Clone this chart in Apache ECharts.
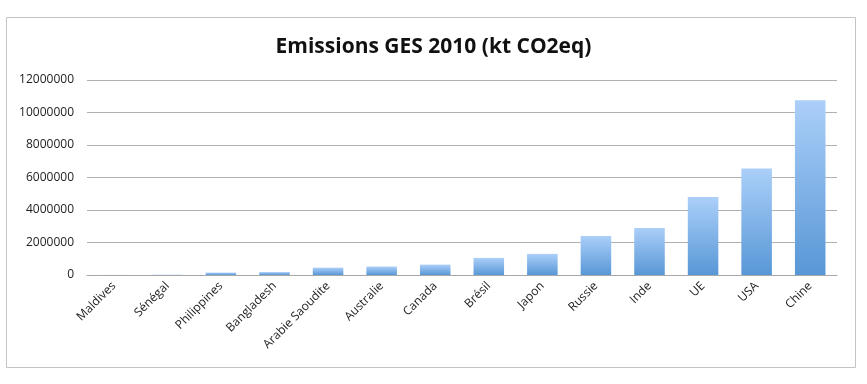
<!DOCTYPE html>
<html>
<head>
<meta charset="utf-8">
<script src="https://cdn.jsdelivr.net/npm/echarts@6/dist/echarts.min.js"></script>
<style>html,body{margin:0;padding:0;background:#fff}#c{width:867px;height:384px}</style>
</head>
<body>
<div id="c"></div>
<script>
const categories = ["Maldives","Sénégal","Philippines","Bangladesh","Arabie Saoudite","Australie","Canada","Brésil","Japon","Russie","Inde","UE","USA","Chine"];
const emissions = [5000, 20000, 150000, 180000, 450000, 520000, 640000, 1050000, 1300000, 2400000, 2900000, 4800000, 6550000, 10750000];
const yTicks = [0, 2000000, 4000000, 6000000, 8000000, 10000000, 12000000];
const titleText = "Emissions GES 2010 (kt CO2eq)";

const chart = echarts.init(document.getElementById('c'), null, {renderer:'canvas'});
chart.setOption({
  animation:false,
  backgroundColor:'#fff',
  title:{text:titleText,left:'center',top:32,textStyle:{fontFamily:'Open Sans',fontWeight:'bold',fontSize:21,color:'#111'}},
  graphic:[{type:'rect',shape:{x:6.5,y:17.5,width:849,height:350},style:{fill:'none',stroke:'#c4c4c4',lineWidth:1},silent:true}],
  grid:{left:87,right:30,top:80,bottom:109},
  xAxis:{type:'category',data:categories,
    axisLine:{lineStyle:{color:'#a8a8a8'}},axisTick:{show:false},
    axisLabel:{rotate:45,interval:0,margin:9,fontFamily:'Open Sans',fontSize:12,color:'#222'}},
  yAxis:{type:'value',min:yTicks[0],max:yTicks[yTicks.length-1],interval:2000000,
    axisLine:{show:false},axisTick:{show:false},
    splitLine:{lineStyle:{color:'#b0b0b0',width:1}},
    axisLabel:{margin:13,fontFamily:'Open Sans',fontSize:12,color:'#222',formatter:v=>String(v)}},
  series:[{type:'bar',data:emissions,barCategoryGap:'43%',
    itemStyle:{color:new echarts.graphic.LinearGradient(0,0,0,1,[{offset:0,color:'#abcff9'},{offset:1,color:'#5897d6'}])}}]
});
</script>
</body>
</html>
